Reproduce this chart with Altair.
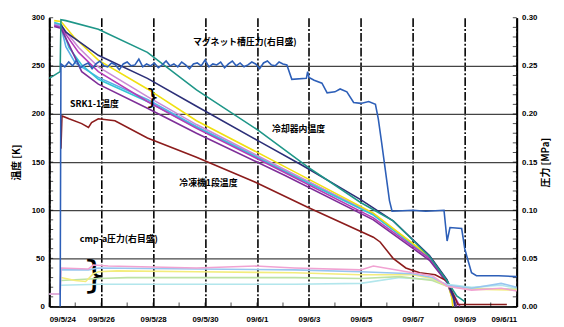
import altair as alt
import pandas as pd

# ---------------- data ----------------
date_labels = ["09/5/24", "09/5/26", "09/5/28", "09/5/30", "09/6/1",
               "09/6/3", "09/6/5", "09/6/7", "09/6/9", "09/6/11"]
day_ticks = [0, 2, 4, 6, 8, 10, 12, 14, 16, 18]
temp_ticks = [0, 50, 100, 150, 200, 250, 300]
press_ticks = [0.0, 0.05, 0.10, 0.15, 0.20, 0.25, 0.30]
minor_temp = list(range(0, 301, 10))
minor_day = list(range(0, 19, 1))

# temperature series [K]
teal_day = [0.0, 0.42, 0.45, 0.64, 1.89, 3.78, 5.67, 8.05, 9.95, 11.99, 13.24, 14.64, 15.32, 15.69, 16.0]
teal_T = [237, 244, 298, 297, 288, 264, 225, 183, 145, 108, 89, 52, 26.5, 11, 5]

navy_day = [0.45, 0.64, 1.89, 3.78, 5.67, 8.05, 9.72, 11.99, 13.24, 14.64, 15.32, 15.58, 15.62]
navy_T = [293, 285, 261, 237, 208, 172, 147, 111, 89, 53, 27.6, 9, 0]

yellow_day = [0.19, 0.45, 0.95, 1.89, 3.78, 5.67, 9.08, 12.48, 14.64, 15.32, 15.5, 15.54]
yellow_T = [297, 296, 280, 256, 226, 193, 145, 97, 52, 26.5, 9, 0]

cyan_day = [0.19, 0.45, 0.76, 1.25, 1.89, 3.78, 5.67, 9.08, 12.48, 14.64, 15.32, 15.58]
cyan_T = [295, 293, 269, 251, 236, 213, 186, 140, 95, 51, 25.5, 4]

lilac_day = [0.19, 0.45, 1.13, 1.89, 3.78, 5.67, 9.08, 12.48, 14.64, 15.32, 15.62]
lilac_T = [294, 292, 269, 249, 218, 189, 142, 96, 52, 26.5, 0]

purple_day = [0.19, 0.45, 0.76, 1.25, 1.89, 3.78, 5.67, 9.08, 12.48, 14.64, 15.32, 15.69]
purple_T = [291, 289, 272, 244, 231, 206, 180, 136, 90, 48, 24.5, 0]

magenta_day = [0.19, 0.45, 1.13, 1.89, 3.78, 5.67, 9.08, 12.48, 14.64, 15.32, 15.81]
magenta_T = [292, 290, 264, 244, 213, 185, 139, 92, 50, 25.5, 0]

sky_day = [0.19, 0.45, 0.64, 1.0, 1.89, 3.78, 5.67, 9.08, 12.48, 14.64, 15.32, 15.58]
sky_T = [293, 291, 270, 253, 238, 215, 187, 141, 96, 51, 26, 5]

brown_day = [0.45, 0.49, 0.76, 1.25, 1.51, 1.63, 1.89, 2.53, 3.78, 5.67, 7.94, 9.95,
             12.48, 12.74, 13.24, 13.73, 14.26, 14.86, 15.32, 15.62, 15.73, 17.62]
brown_T = [164, 198, 195, 190, 186, 191, 195, 193, 175, 155, 129, 103,
           72, 67, 50, 40, 35, 33, 26.5, 9, 2, 2]

# pressure series [MPa]
mag_day = [0.42, 0.45, 0.6, 0.75, 0.9, 1.05, 1.2, 1.35, 1.5, 1.65, 1.8, 1.95, 2.1, 2.25, 2.4,
           2.55, 2.7, 2.85, 3.0, 3.15, 3.3, 3.45, 3.6, 3.75, 3.9, 4.05, 4.2, 4.35, 4.5, 4.65,
           4.8, 4.95, 5.1, 5.25, 5.4, 5.55, 5.7, 5.85, 6.0, 6.15, 6.3, 6.45, 6.6, 6.75, 6.9,
           7.05, 7.2, 7.35, 7.5, 7.65, 7.8, 7.95, 8.1, 8.25, 8.4, 8.55, 8.7, 8.85, 9.0, 9.15,
           9.34, 9.9, 9.95, 10.0, 10.2, 10.5, 10.7, 11.0, 11.2, 11.46, 11.72, 12.0, 12.3,
           12.56, 12.67, 12.8, 12.9, 13.0, 13.1, 13.2, 14.0, 14.5, 15.2, 15.32, 15.43,
           15.88, 16.0, 16.07, 16.26, 16.45, 17.3, 18.0]
mag_P = [0.0, 0.252, 0.249, 0.254, 0.250, 0.256, 0.248, 0.251, 0.253, 0.247, 0.252, 0.255,
         0.250, 0.249, 0.253, 0.251, 0.246, 0.252, 0.254, 0.250, 0.251, 0.257, 0.249, 0.252,
         0.250, 0.253, 0.248, 0.251, 0.255, 0.250, 0.252, 0.249, 0.254, 0.251, 0.247, 0.252,
         0.253, 0.250, 0.256, 0.249, 0.252, 0.251, 0.254, 0.248, 0.252, 0.255, 0.250, 0.253,
         0.249, 0.251, 0.254, 0.252, 0.247, 0.253, 0.255, 0.251, 0.250, 0.254, 0.252, 0.251,
         0.236, 0.237, 0.244, 0.238, 0.235, 0.232, 0.222, 0.223, 0.226, 0.223, 0.212, 0.211,
         0.213, 0.210, 0.195, 0.170, 0.150, 0.130, 0.110, 0.099, 0.100, 0.099, 0.100, 0.068,
         0.082, 0.081, 0.060, 0.053, 0.035, 0.032, 0.032, 0.031]

ppink_day = [0.0, 0.42, 0.45, 1.51, 1.7, 2.27, 5.67, 7.94, 9.45, 11.99, 12.48, 13.99, 14.75, 15.32, 16.26, 17.4, 18.0]
ppink_P = [0.013, 0.013, 0.040, 0.039, 0.043, 0.042, 0.040, 0.042, 0.040, 0.038, 0.042, 0.035, 0.032, 0.021, 0.017, 0.019, 0.016]

pblue_day = [0.0, 0.42, 0.45, 1.51, 1.89, 5.67, 9.45, 11.99, 13.99, 14.75, 15.32, 16.26, 17.4, 18.0]
pblue_P = [0.013, 0.013, 0.038, 0.038, 0.040, 0.039, 0.038, 0.036, 0.034, 0.030, 0.022, 0.019, 0.024, 0.020]

pyellow_day = [0.45, 1.0, 1.4, 1.7, 1.89, 2.6, 5.67, 9.45, 11.99, 13.99, 14.75, 15.32, 16.26, 18.0]
pyellow_P = [0.030, 0.027, 0.026, 0.034, 0.036, 0.037, 0.036, 0.035, 0.033, 0.033, 0.029, 0.021, 0.018, 0.017]

pgreen_day = [0.45, 1.89, 3.0, 5.67, 9.45, 11.99, 13.5, 14.75, 15.32, 16.26, 18.0]
pgreen_P = [0.027, 0.029, 0.030, 0.030, 0.030, 0.029, 0.031, 0.027, 0.021, 0.019, 0.018]

pcyan_day = [0.45, 1.89, 5.67, 9.45, 11.99, 13.5, 14.75, 15.32, 16.26, 17.4, 18.0]
pcyan_P = [0.022, 0.023, 0.023, 0.023, 0.024, 0.030, 0.028, 0.023, 0.020, 0.022, 0.019]

# annotations
ann_text = ["マグネット槽圧力(右目盛)", "SRK1-1温度", "冷却器内温度", "冷凍機1段温度", "cmp-a圧力(右目盛)"]
ann_day = [7.53, 1.74, 9.6, 6.13, 2.68]
ann_T = [274.5, 210, 184.7, 128.6, 70.4]

brace_text = ["}", "}"]
brace_day = [3.97, 1.74]
brace_T = [218, 31]
brace_size = [22, 38]

# ---------------- build tables ----------------
left_series = [
    ("sky", sky_day, sky_T, "#5aaee8"),
    ("lilac", lilac_day, lilac_T, "#c98ad6"),
    ("cyan", cyan_day, cyan_T, "#33c4d6"),
    ("yellow", yellow_day, yellow_T, "#f0e010"),
    ("magenta", magenta_day, magenta_T, "#b63cb8"),
    ("purple", purple_day, purple_T, "#7e2e98"),
    ("brown", brown_day, brown_T, "#8c1c1c"),
    ("navy", navy_day, navy_T, "#2c2f78"),
    ("teal", teal_day, teal_T, "#1e9688"),
]
right_series = [
    ("pcyan", pcyan_day, pcyan_P, "#b2e6ec"),
    ("pgreen", pgreen_day, pgreen_P, "#bde2a4"),
    ("pyellow", pyellow_day, pyellow_P, "#f3ec7c"),
    ("pblue", pblue_day, pblue_P, "#98c6f0"),
    ("ppink", ppink_day, ppink_P, "#f1a2d2"),
    ("mag", mag_day, mag_P, "#2d5fb8"),
]


def to_df(series):
    rows = []
    for name, ds, vs, _ in series:
        for i, (d, v) in enumerate(zip(ds, vs)):
            rows.append({"s": name, "day": d, "v": v, "i": i})
    return pd.DataFrame(rows)


df_left = to_df(left_series)
df_right = to_df(right_series)
df_ann = pd.DataFrame({"t": ann_text, "day": ann_day, "v": ann_T})
df_brace = pd.DataFrame({"t": brace_text, "day": brace_day, "v": brace_T, "sz": brace_size})
df_mt = pd.DataFrame({"v": minor_temp})
df_md = pd.DataFrame({"day": minor_day})

W, H = 476, 294
label_expr = "[" + ",".join("'%s'" % s for s in date_labels) + "][round(datum.value/2)]"

x_axis = alt.Axis(values=day_ticks, labelExpr=label_expr, title=None,
                  ticks=False, labelFontSize=8, labelFontWeight="bold",
                  labelPadding=9, domainColor="black", domainWidth=1.5,
                  grid=True, gridColor="black", gridWidth=1.6,
                  gridDash=[9, 2, 2, 2], labelFont="Liberation Sans")
x_scale = alt.Scale(domain=[0, 18], nice=False, zero=False)
x_enc = alt.X("day:Q", scale=x_scale, axis=x_axis)

t_scale = alt.Scale(domain=[0, 300], nice=False)
p_scale = alt.Scale(domain=[0, 0.30], nice=False)

left_axis = alt.Axis(values=temp_ticks, title="温度 [K]", ticks=False, labelFontSize=8,
                     labelFontWeight="bold", labelPadding=5, domainColor="black",
                     domainWidth=2, grid=True, gridColor="#444444", gridWidth=1.3,
                     gridOpacity={"condition": {"test": "datum.value >= 300", "value": 0}, "value": 1},
                     titleAngle=270, titleX=-33, titleY=147, titleAlign="center",
                     titleBaseline="middle", titleFontSize=10, titleFontWeight="bold",
                     titleFont="Noto Sans CJK JP", labelFont="Liberation Sans")
right_axis = alt.Axis(values=press_ticks, format=".2f", title="圧力 [MPa]", ticks=False,
                      orient="right", labelFontSize=8, labelFontWeight="bold", labelPadding=5,
                      domainColor="black", domainWidth=2, grid=False,
                      titleAngle=270, titleX=29, titleY=147, titleAlign="center",
                      titleBaseline="middle", titleFontSize=10, titleFontWeight="bold",
                      titleFont="Noto Sans CJK JP", labelFont="Liberation Sans")

y_t = alt.Y("v:Q", scale=t_scale, axis=left_axis)

left_lines = alt.Chart(df_left).mark_line(strokeWidth=1.6).encode(
    x=x_enc,
    y=y_t,
    color=alt.Color("s:N", scale=alt.Scale(domain=[s[0] for s in left_series],
                                           range=[s[3] for s in left_series]), legend=None),
    order=alt.Order("i:Q"),
)

ann = alt.Chart(df_ann).mark_text(fontSize=9, fontWeight="bold", font="Noto Sans CJK JP",
                                  color="black").encode(x=x_enc, y=y_t, text="t:N")

brace = alt.Chart(df_brace).mark_text(font="DejaVu Sans", color="black").encode(
    x=x_enc, y=y_t, text="t:N",
    size=alt.Size("sz:Q", scale=None, legend=None))

tick_l = alt.Chart(df_mt).mark_tick(orient="horizontal", size=4, thickness=1, color="black").encode(
    y=y_t, x=alt.value(2))
tick_r = alt.Chart(df_mt).mark_tick(orient="horizontal", size=4, thickness=1, color="black").encode(
    y=y_t, x=alt.value(W - 2))
tick_b = alt.Chart(df_md).mark_tick(orient="vertical", size=4, thickness=1, color="black").encode(
    x=x_enc, y=alt.value(H - 2))

temp_layer = alt.layer(left_lines, ann, brace, tick_l, tick_r, tick_b)

right_lines = alt.Chart(df_right).mark_line(strokeWidth=1.6).encode(
    x=x_enc,
    y=alt.Y("v:Q", scale=p_scale, axis=right_axis),
    color=alt.Color("s:N", scale=alt.Scale(domain=[s[0] for s in right_series],
                                           range=[s[3] for s in right_series]), legend=None),
    order=alt.Order("i:Q"),
)

chart = alt.layer(temp_layer, right_lines).resolve_scale(
    y="independent", color="independent"
).properties(
    width=W, height=H,
    autosize=alt.AutoSizeParams(type="none"),
    padding={"left": 42, "top": 7, "right": 40, "bottom": 18},
    background="white",
).configure_view(stroke=None)

chart.save("out.html", embed_options={"renderer": "svg", "actions": False})
